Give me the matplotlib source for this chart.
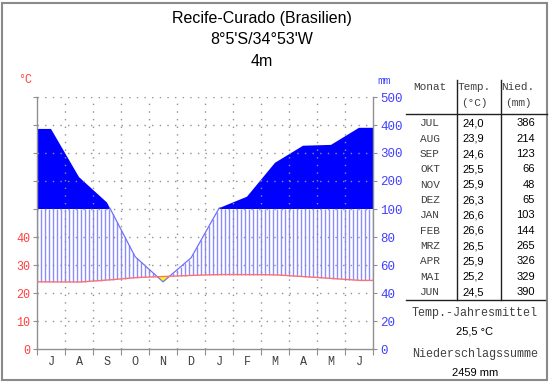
import numpy as np
import matplotlib
matplotlib.use("Agg")
import matplotlib.pyplot as plt
from matplotlib.patches import Rectangle

# ---- data ----
months_axis = ["J", "A", "S", "O", "N", "D", "J", "F", "M", "A", "M", "J"]
months_table = ["JUL", "AUG", "SEP", "OKT", "NOV", "DEZ", "JAN", "FEB", "MRZ", "APR", "MAI", "JUN"]
temps = [24.0, 23.9, 24.6, 25.5, 25.9, 26.3, 26.6, 26.6, 26.5, 25.9, 25.2, 24.5]
precip = [386, 214, 123, 66, 48, 65, 103, 144, 265, 326, 329, 390]
temp_ticks = [0, 10, 20, 30, 40]
mm_ticks = [0, 20, 40, 60, 80, 100, 200, 300, 400, 500]
title_lines = ["Recife-Curado (Brasilien)", "8°5'S/34°53'W", "4m"]
mean_temp = "25,5 °C"
total_precip = "2459 mm"


def scale_mm(p):
    p = np.asarray(p, dtype=float)
    return np.where(p <= 100, p / 2.0, 50 + (p - 100) / 10.0)


W, H = 550, 384
fig = plt.figure(figsize=(W / 100, H / 100), dpi=100)
fig.patch.set_facecolor("white")

# outer frame
fig.patches.append(Rectangle((2 / W, 4 / H), 545 / W, 377 / H, transform=fig.transFigure,
                             fill=False, edgecolor="#8a8a8a", lw=1.5))

ax = fig.add_axes([37 / W, 35 / H, 336 / W, 252 / H])
n = len(temps)
xc = np.arange(n) + 0.5
xe = np.concatenate([[0], xc, [n]])
te = np.concatenate([[temps[0]], temps, [temps[-1]]])
pe = scale_mm(np.concatenate([[precip[0]], precip, [precip[-1]]]))

xf = np.linspace(0, n, 2401)
tf = np.interp(xf, xe, te)
pf = np.interp(xf, xe, pe)

# solid blue (>100 mm)
ax.fill_between(xf, 50, pf, where=pf > 50, color="#0000ff", lw=0, interpolate=True, zorder=2)
# hatch (humid)
xh = np.arange(0, n + 1e-6, 1 / 7)
th = np.interp(xh, xe, te)
ph = np.interp(xh, xe, pe)
top = np.minimum(ph, 50)
m = top > th
ax.vlines(xh[m], th[m], top[m], color="#8c8cff", lw=1.0, zorder=2)
# arid
ax.fill_between(xf, pf, tf, where=tf > pf, color="#ffff00", lw=0, interpolate=True, zorder=3)
# precip line below 100mm
pl = np.where(pf <= 50.5, pf, np.nan)
ax.plot(xf, pl, color="#7070ff", lw=0.9, zorder=3)
# temperature line
ax.plot(xf, tf, color="#ff7070", lw=1.0, zorder=4)

# grid
for yv in range(10, 91, 10):
    ax.axhline(yv, color="#909090", lw=1.0, ls=(0, (1, 4.5)), zorder=5)
for xv in range(1, n):
    ax.axvline(xv, color="#909090", lw=1.0, ls=(0, (1, 4.5)), zorder=5)

ax.set_xlim(0, n)
ax.set_ylim(0, 90)
for s in ["left", "right", "bottom"]:
    ax.spines[s].set_color("#909090")
    ax.spines[s].set_linewidth(1.0)
ax.spines["top"].set_visible(False)

ax.set_xticks(np.arange(n + 1))
ax.set_xticklabels([])
ax.set_xticks(xc, minor=True)
ax.set_xticklabels(months_axis, minor=True, family="Liberation Mono", fontsize=8.5, color="#404040")
ax.tick_params(axis="x", which="major", length=4, color="#909090", direction="out")
ax.tick_params(axis="x", which="minor", length=0, pad=5)

ax.set_yticks(np.arange(0, 91, 10))
ax.set_yticklabels([str(t) if t in temp_ticks else "" for t in range(0, 91, 10)],
                   family="Liberation Mono", fontsize=8.5, color="#ff4040")
ax.tick_params(axis="y", length=3, color="#909090", pad=2)

ax2 = ax.twinx()
ax2.set_ylim(0, 90)
ax2.set_yticks(scale_mm(mm_ticks))
ax2.set_yticklabels([str(t) for t in mm_ticks], family="Liberation Mono", fontsize=9, color="#4040ff")
ax2.tick_params(axis="y", length=3, color="#909090", pad=2)
for s in ax2.spines.values():
    s.set_visible(False)

def fx(px):
    return px / W

def fy(py):
    return 1 - py / H

fig.text(fx(18), fy(80), "°C", color="#ff4040", fontsize=8.5, family="Liberation Mono", va="center")
fig.text(fx(377), fy(81), "mm", color="#4040ff", fontsize=8, family="Liberation Mono", va="center")

# title
for i, t in enumerate(title_lines):
    fig.text(fx(262), fy(18 + 22 * i), t, ha="center", va="center", fontsize=11.5,
             family="Liberation Sans", color="black")

# table
mono = dict(family="Liberation Mono", fontsize=8, color="#404040", va="center")
sans = dict(family="Liberation Sans", fontsize=8, color="black", va="center")
fig.text(fx(430), fy(87), "Monat", ha="center", **mono)
fig.text(fx(474), fy(87), "Temp.", ha="center", **mono)
fig.text(fx(474), fy(103), "(°C)", ha="center", **mono)
fig.text(fx(518), fy(87), "Nied.", ha="center", **mono)
fig.text(fx(518), fy(103), "(mm)", ha="center", **mono)
for i in range(n):
    y = 123.3 + 15.35 * i
    fig.text(fx(430), fy(y), months_table[i], ha="center", **mono)
    fig.text(fx(484), fy(y), f"{temps[i]:.1f}".replace(".", ","), ha="right", **sans)
    fig.text(fx(535), fy(y), str(precip[i]), ha="right", **sans)

line_kw = dict(color="#202020", lw=1.0)
fig.add_artist(plt.Line2D([fx(457), fx(457)], [fy(80), fy(300)], transform=fig.transFigure, **line_kw))
fig.add_artist(plt.Line2D([fx(501), fx(501)], [fy(80), fy(300)], transform=fig.transFigure, **line_kw))
fig.add_artist(plt.Line2D([fx(406), fx(547)], [fy(114), fy(114)], transform=fig.transFigure, **line_kw))
fig.add_artist(plt.Line2D([fx(406), fx(545)], [fy(300), fy(300)], transform=fig.transFigure, **line_kw))

foot = dict(family="Liberation Mono", fontsize=8.5, color="#404040", va="center", ha="center")
fig.text(fx(475), fy(313), "Temp.-Jahresmittel", **foot)
fig.text(fx(475), fy(331), mean_temp, ha="center", **sans)
fig.text(fx(475), fy(354), "Niederschlagssumme", **foot)
fig.text(fx(475), fy(373), total_precip, ha="center", **sans)

fig.savefig("out.png", dpi=100)
